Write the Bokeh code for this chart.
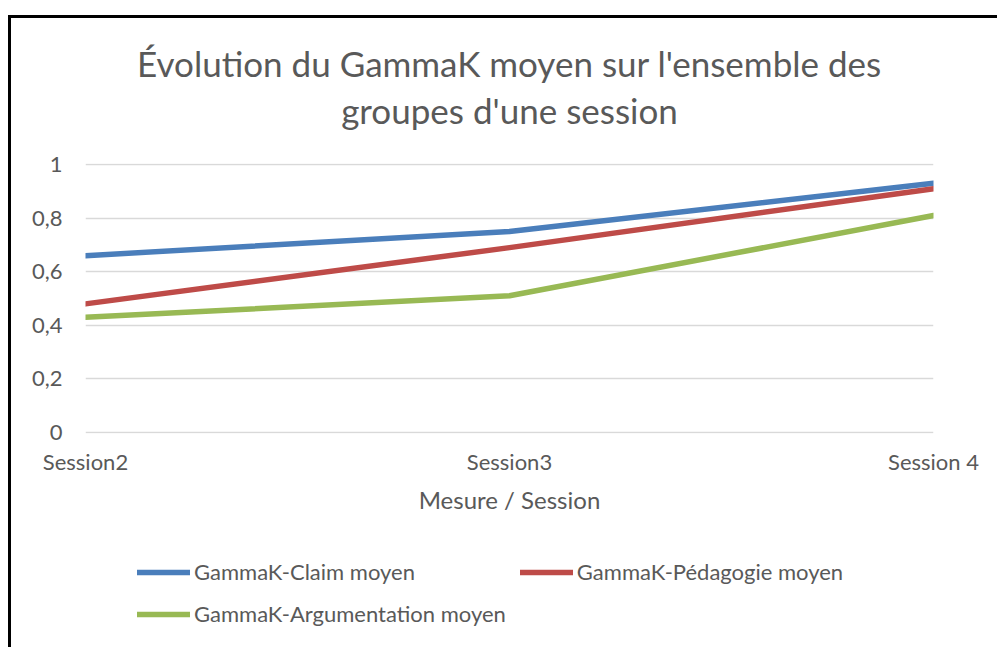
from bokeh.plotting import figure
from bokeh.layouts import column
from bokeh.models import (Range1d, FixedTicker, CustomJSTickFormatter, Legend, LegendItem, Title)
from bokeh.embed import file_html
from bokeh.resources import INLINE

# ---- data ----
sessions = ["Session2", "Session3", "Session 4"]
claim = [0.66, 0.75, 0.93]
pedagogie = [0.48, 0.69, 0.91]
argumentation = [0.43, 0.51, 0.81]
series_names = ["GammaK-Claim moyen", "GammaK-Pédagogie moyen", "GammaK-Argumentation moyen"]
y_ticks = [0, 0.2, 0.4, 0.6, 0.8, 1.0]
title_lines = ["Évolution du GammaK moyen sur l'ensemble des", "groupes d'une session"]
x_title = "Mesure / Session"

FONT = "Lato"
GREY = "#595959"
colors = ["#4a7ebb", "#be4b48", "#98b954"]
LW = 5.5

xs = list(range(len(sessions)))
series = [claim, pedagogie, argumentation]

p = figure(width=986, height=530, output_backend="svg", toolbar_location=None,
           x_range=Range1d(0, len(sessions) - 1), y_range=Range1d(-0.004, 1.004),
           min_border_left=74, min_border_right=64, min_border_top=145, min_border_bottom=115,
           title=None)
p.outline_line_color = None
p.background_fill_color = "white"
p.border_fill_color = "white"

# titles (added closest-first): spacer, line 2, line 1
spacer = Title(text=" ", text_font_size="1px", standoff=30, text_color="white")
t2 = Title(text=title_lines[1], align="center", text_font=FONT, text_font_size="35px",
           text_color=GREY, text_font_style="normal", standoff=0, offset=0)
t1 = Title(text=title_lines[0], align="center", text_font=FONT, text_font_size="35px",
           text_color=GREY, text_font_style="normal", standoff=6, offset=0)
p.add_layout(spacer, "above")
p.add_layout(t2, "above")
p.add_layout(t1, "above")

for vals, c in zip(series, colors):
    p.line(xs, vals, line_color=c, line_width=LW, line_cap="round", line_join="round")

# axes
p.xaxis.ticker = FixedTicker(ticks=xs)
p.xaxis.formatter = CustomJSTickFormatter(args=dict(labels=sessions),
                                          code="return labels[Math.round(tick)];")
p.yaxis.ticker = FixedTicker(ticks=y_ticks)
p.yaxis.formatter = CustomJSTickFormatter(
    code="const s = (Math.round(tick*10)/10).toString(); return s.replace('.', ',');")
for ax in (p.xaxis, p.yaxis):
    ax.axis_line_color = None
    ax.major_tick_line_color = None
    ax.minor_tick_line_color = None
    ax.major_tick_out = 0
    ax.major_tick_in = 0
    ax.minor_tick_out = 0
    ax.major_label_text_font = FONT
    ax.major_label_text_font_size = "22px"
    ax.major_label_text_color = GREY
p.yaxis.major_label_standoff = 23
p.xaxis.major_label_standoff = 14
p.xaxis.axis_label = x_title
p.xaxis.axis_label_text_font = FONT
p.xaxis.axis_label_text_font_size = "24px"
p.xaxis.axis_label_text_font_style = "normal"
p.xaxis.axis_label_text_color = GREY
p.xaxis.axis_label_standoff = 7

p.xgrid.grid_line_color = None
p.ygrid.ticker = FixedTicker(ticks=y_ticks)
p.ygrid.grid_line_color = "#d9d9d9"
p.ygrid.grid_line_width = 1.5

# legend in its own strip below the chart (series drawn out of view, only legend shows)
lf = figure(width=986, height=99, output_backend="svg", toolbar_location=None,
            x_range=Range1d(100, 101), y_range=Range1d(100, 101),
            x_axis_location=None, y_axis_location=None,
            min_border_left=0, min_border_right=0, min_border_top=0, min_border_bottom=0)
lf.outline_line_color = None
lf.background_fill_color = "white"
lf.border_fill_color = "white"
lf.xgrid.visible = False
lf.ygrid.visible = False
leg_renderers = [lf.line(xs, vals, line_color=c, line_width=LW, line_cap="round")
                 for vals, c in zip(series, colors)]
order = [0, 2, 1]  # legend fills column by column
legend = Legend(items=[LegendItem(label=series_names[i], renderers=[leg_renderers[i]]) for i in order],
                ncols=2, location=(52, 19.5), padding=0, margin=0, spacing=14,
                glyph_width=53, glyph_height=28, label_height=28, label_standoff=4,
                label_text_font=FONT, label_text_font_size="22px", label_text_color=GREY,
                border_line_color=None, background_fill_alpha=0)
lf.add_layout(legend, "center")

layout = column(p, lf, spacing=0)
layout.styles = {"margin-left": "8px", "margin-top": "15px",
                 "border-left": "3px solid #000", "border-top": "3px solid #000",
                 "background-color": "white"}

open("out.html", "w").write(file_html(layout, INLINE))
